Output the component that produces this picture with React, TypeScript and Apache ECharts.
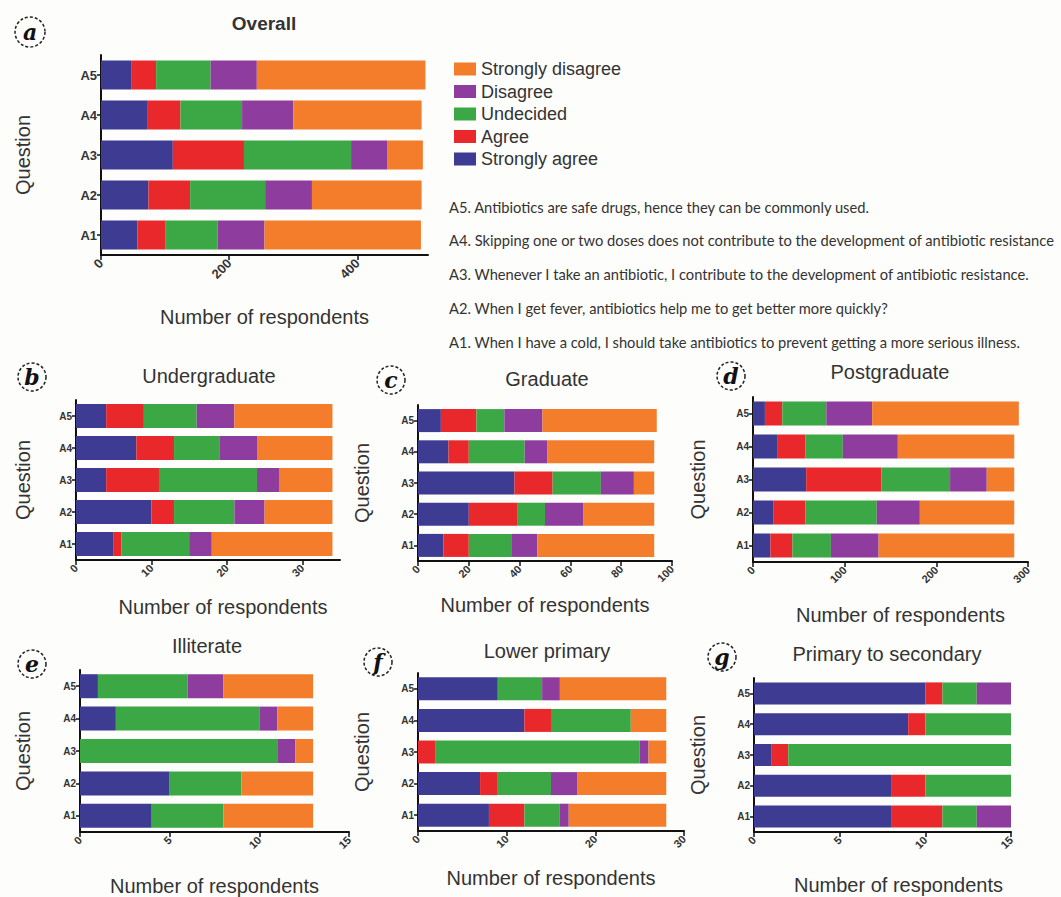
import React, { useEffect, useRef } from 'react';
import * as echarts from 'echarts';

const questions = ['A1', 'A2', 'A3', 'A4', 'A5'];
const responses = ['Strongly agree', 'Agree', 'Undecided', 'Disagree', 'Strongly disagree'];
const legendOrder = ['Strongly disagree', 'Disagree', 'Undecided', 'Agree', 'Strongly agree'];
const colors = ['#3d3b92', '#e8282b', '#3ca845', '#8e3c9e', '#f47d2b'];

// rows: Strongly agree, Agree, Undecided, Disagree, Strongly disagree; columns: A1..A5
const overall = [
  [57, 74, 112, 73, 47],
  [43, 65, 111, 51, 39],
  [82, 117, 167, 96, 85],
  [73, 73, 57, 80, 72],
  [244, 171, 55, 200, 263],
];
const undergraduate = [
  [5, 10, 4, 8, 4],
  [1, 3, 7, 5, 5],
  [9, 8, 13, 6, 7],
  [3, 4, 3, 5, 5],
  [16, 9, 7, 10, 13],
];
const graduate = [
  [10, 20, 38, 12, 9],
  [10, 19, 15, 8, 14],
  [17, 11, 19, 22, 11],
  [10, 15, 13, 9, 15],
  [46, 28, 8, 42, 45],
];
const postgraduate = [
  [19, 22, 58, 27, 13],
  [24, 35, 82, 30, 19],
  [42, 78, 75, 41, 48],
  [52, 47, 40, 60, 50],
  [148, 103, 30, 127, 160],
];
const illiterate = [
  [4, 5, 0, 2, 1],
  [0, 0, 0, 0, 0],
  [4, 4, 11, 8, 5],
  [0, 0, 1, 1, 2],
  [5, 4, 1, 2, 5],
];
const lowerPrimary = [
  [8, 7, 0, 12, 9],
  [4, 2, 2, 3, 0],
  [4, 6, 23, 9, 5],
  [1, 3, 1, 0, 2],
  [11, 10, 2, 4, 12],
];
const primaryToSecondary = [
  [8, 8, 1, 9, 10],
  [3, 2, 1, 1, 1],
  [2, 5, 13, 5, 2],
  [2, 0, 0, 0, 2],
  [0, 0, 0, 0, 0],
];

const panelData = [overall, undergraduate, graduate, postgraduate, illiterate, lowerPrimary, primaryToSecondary];
const panelTitles = ['Overall', 'Undergraduate', 'Graduate', 'Postgraduate', 'Illiterate', 'Lower primary', 'Primary to secondary'];
const panelLetters = ['a', 'b', 'c', 'd', 'e', 'f', 'g'];
const axisMax = [510, 35, 100, 300, 15, 30, 15];
const tickValues = [
  [0, 200, 400],
  [0, 10, 20, 30],
  [0, 20, 40, 60, 80, 100],
  [0, 100, 200, 300],
  [0, 5, 10, 15],
  [0, 10, 20, 30],
  [0, 5, 10, 15],
];
const questionTexts = [
  'A5. Antibiotics are safe drugs, hence they can be commonly used.',
  'A4. Skipping one or two doses does not contribute to the development of antibiotic resistance',
  'A3. Whenever I take an antibiotic, I contribute to the development of antibiotic resistance.',
  'A2. When I get fever, antibiotics help me to get better more quickly?',
  'A1. When I have a cold, I should take antibiotics to prevent getting a more serious illness.',
];

// layout
const grids = [
  { left: 101, top: 55, width: 327, height: 200 },
  { left: 76, top: 400, width: 264, height: 160 },
  { left: 418, top: 405, width: 254, height: 156 },
  { left: 753, top: 397, width: 275, height: 165 },
  { left: 80, top: 670, width: 269, height: 163 },
  { left: 418, top: 673, width: 266, height: 158 },
  { left: 754, top: 678, width: 257, height: 154 },
];
const barWidths = [29, 24, 23, 24, 24, 23, 22];
const titlePos = [
  [264, 14], [209, 366], [547, 369], [890, 362], [207, 636], [547, 641], [887, 644],
];
const xNameGap = [52, 37, 34, 43, 44, 37, 43];
const xNamePad = [0, 30, 0, 20, 0, 0, 32];
const yNameGap = [68, 43, 46, 45, 47, 46, 46];
const letterPos = [
  [30, 32], [32, 377], [391, 380], [731, 376], [32, 664], [378, 662], [722, 657],
];
const questionY = [207, 240, 274, 308, 342];

export default function App() {
  const ref = useRef<HTMLDivElement>(null);
  useEffect(() => {
    if (!ref.current) return;
    const chart = echarts.init(ref.current, null, { renderer: 'svg' });
    const font = '"Liberation Sans", Arial, Helvetica, sans-serif';

    const series: any[] = [];
    panelData.forEach((pd, i) => {
      pd.forEach((vals, r) => {
        series.push({
          type: 'bar',
          name: responses[r],
          stack: 'p' + i,
          xAxisIndex: i,
          yAxisIndex: i,
          data: vals,
          barWidth: barWidths[i],
          itemStyle: { color: colors[r] },
        });
      });
    });

    const graphics: any[] = [];
    letterPos.forEach(([x, y], i) => {
      graphics.push({
        type: 'circle',
        shape: { cx: x, cy: y, r: i === 0 ? 15 : 14 },
        style: { fill: 'none', stroke: '#222', lineWidth: 1.5, lineDash: [3, 2] },
      });
      graphics.push({
        type: 'text',
        x,
        y,
        style: {
          text: panelLetters[i],
          font: 'italic bold 22px "DejaVu Serif", serif',
          fill: '#111',
          align: 'center',
          verticalAlign: 'middle',
        },
      });
    });
    questionTexts.forEach((t, k) => {
      graphics.push({
        type: 'text',
        x: 449,
        y: questionY[k],
        style: {
          text: t,
          font: '14.7px Lato, "Open Sans", sans-serif',
          fill: '#333',
          verticalAlign: 'middle',
        },
      });
    });

    chart.setOption({
      animation: false,
      backgroundColor: '#fdfdfb',
      textStyle: { fontFamily: font },
      title: panelTitles.map((t, i) => ({
        text: t,
        left: titlePos[i][0],
        top: titlePos[i][1],
        textAlign: 'center',
        padding: 0,
        textStyle: {
          fontSize: i === 0 ? 19 : 20,
          fontWeight: i === 0 ? 'bold' : 'normal',
          color: '#333',
          fontFamily: font,
        },
      })),
      legend: {
        data: legendOrder,
        orient: 'vertical',
        left: 449,
        top: 55,
        itemWidth: 22,
        itemHeight: 13,
        itemGap: 4.5,
        icon: 'rect',
        selectedMode: false,
        textStyle: { fontSize: 18, color: '#333', fontFamily: font },
      },
      grid: grids.map((g) => ({ ...g })),
      xAxis: grids.map((g, i) => ({
        type: 'value',
        gridIndex: i,
        min: 0,
        max: axisMax[i],
        name: 'Number of respondents',
        nameLocation: 'middle',
        nameGap: xNameGap[i],
        nameTextStyle: { fontSize: 20, color: '#333', fontFamily: font, padding: [0, 0, 0, xNamePad[i]] },
        axisLine: { show: true, lineStyle: { color: '#111', width: 2 } },
        axisTick: { show: true, length: 5, lineStyle: { color: '#111', width: 1.5 }, customValues: tickValues[i] },
        axisLabel: {
          rotate: 45,
          fontSize: i === 0 ? 13 : 11,
          fontWeight: 'bold',
          color: '#333',
          fontFamily: font,
          margin: 6,
          customValues: tickValues[i],
        },
        splitLine: { show: false },
      })),
      yAxis: grids.map((g, i) => ({
        type: 'category',
        gridIndex: i,
        data: questions,
        name: 'Question',
        nameLocation: 'middle',
        nameGap: yNameGap[i],
        nameRotate: 90,
        nameTextStyle: { fontSize: 20, color: '#333', fontFamily: font },
        axisLine: { show: true, lineStyle: { color: '#111', width: 2 } },
        axisTick: { show: true, alignWithLabel: true, length: 4, lineStyle: { color: '#111', width: 1.5 } },
        axisLabel: { fontSize: i === 0 ? 13 : 10, fontWeight: 'bold', color: '#333', fontFamily: font, margin: 4 },
        splitLine: { show: false },
      })),
      series,
      graphic: graphics,
    });
    return () => chart.dispose();
  }, []);
  return <div ref={ref} style={{ position: 'absolute', left: 0, top: 0, width: 1061, height: 897 }} />;
}
